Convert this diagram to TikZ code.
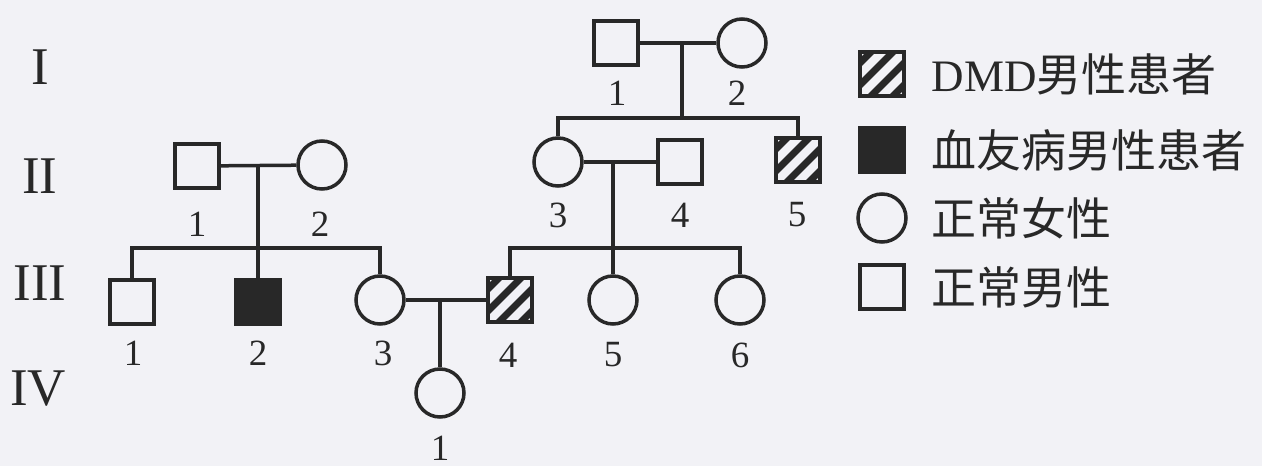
\documentclass[tikz,border=0pt]{standalone}
\usepackage{fontspec}
\setmainfont{Liberation Serif}
\newfontfamily\cjk{Noto Sans CJK SC}
\definecolor{paper}{RGB}{242,242,246}
\definecolor{ink}{RGB}{40,40,40}
\tikzset{
  male/.style={draw=ink,line width=3.5pt,minimum size=44pt,inner sep=0pt},
  female/.style={circle,draw=ink,line width=3.5pt,minimum size=48pt,inner sep=0pt},
  dmd/.style={male,path picture={
    \foreach \k in {-33,-11,11,33}
      \draw[ink,line width=7pt] ([shift={(\k-30,30)}]path picture bounding box.center)
        -- ([shift={(\k+30,-30)}]path picture bounding box.center);}},
  hemo/.style={male,fill=ink},
  num/.style={text=ink,font=\fontsize{37}{37}\selectfont},
  gen/.style={text=ink,font=\fontsize{53}{53}\selectfont},
  key/.style={text=ink,anchor=west,font=\fontsize{45}{45}\selectfont},
  link/.style={draw=ink,line width=3.5pt},
}
\begin{document}
\begin{tikzpicture}[x=1pt,y=-1pt]
\fill[paper] (0,0) rectangle (1262,466);
\useasboundingbox (0,0) rectangle (1262,466);

% generations
\node[gen] (gI) at (40,67) {I};
\node[gen] (gII) at (40,176) {II};
\node[gen] (gIII) at (40,283) {III};
\node[gen] (gIV) at (38,389) {IV};

% persons
\node[male] (I1) at (616,43) {};
\node[female] (I2) at (742,43) {};

\node[male] (II1) at (197,166) {};
\node[female] (II2) at (322,165) {};
\node[female] (II3) at (558,162) {};
\node[male] (II4) at (680,162) {};
\node[dmd] (II5) at (798,160) {};

\node[male] (III1) at (132,302) {};
\node[hemo] (III2) at (258,302) {};
\node[female] (III3) at (380,300) {};
\node[dmd] (III4) at (510,300) {};
\node[female] (III5) at (613,300) {};
\node[female] (III6) at (740,300) {};

\node[female] (IV1) at (440,393) {};

% numbers
\node[num] (nI1) at (617,93) {1};
\node[num] (nI2) at (737,93) {2};
\node[num] (nII1) at (197,224) {1};
\node[num] (nII2) at (320,224) {2};
\node[num] (nII3) at (558,215) {3};
\node[num] (nII4) at (680,215) {4};
\node[num] (nII5) at (797,215) {5};
\node[num] (nIII1) at (133,353) {1};
\node[num] (nIII2) at (258,353) {2};
\node[num] (nIII3) at (383,353) {3};
\node[num] (nIII4) at (508,355) {4};
\node[num] (nIII5) at (613,355) {5};
\node[num] (nIII6) at (740,355) {6};
\node[num] (nIV1) at (440,448) {1};

% family lines
\coordinate (mI) at (682,43);
\coordinate (sI) at (682,118);
\draw[link] (I1) -- (I2);
\draw[link] (mI) -- (sI);
\draw[link] (II3.north) |- (sI) -| (II5.north);

\coordinate (mL) at (258,165);
\coordinate (sL) at (258,248);
\draw[link] (II1) -- (II2);
\draw[link] (mL) -- (III2.north);
\draw[link] (III1.north) |- (sL) -| (III3.north);

\coordinate (mR) at (613,162);
\coordinate (sR) at (613,248);
\draw[link] (II3) -- (II4);
\draw[link] (mR) -- (III5.north);
\draw[link] (III4.north) |- (sR) -| (III6.north);

\coordinate (mIII) at (440,300);
\draw[link] (III3) -- (III4);
\draw[link] (mIII) -- (IV1.north);

% key
\node[dmd] (kD) at (882,74) {};
\node[hemo] (kH) at (882,150) {};
\node[female] (kF) at (882,218) {};
\node[male] (kM) at (882,287) {};
\node[key] (tD) at (928,74) {DMD{\cjk 男性患者}};
\node[key] (tH) at (928,150) {\cjk 血友病男性患者};
\node[key] (tF) at (928,218) {\cjk 正常女性};
\node[key] (tM) at (928,287) {\cjk 正常男性};
\end{tikzpicture}
\end{document}
